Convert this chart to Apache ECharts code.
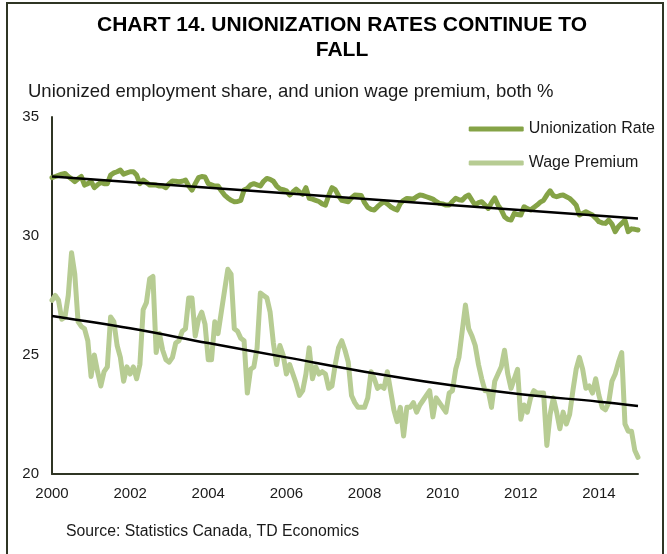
<!DOCTYPE html>
<html>
<head>
<meta charset="utf-8">
<script src="https://cdn.jsdelivr.net/npm/echarts@6/dist/echarts.min.js"></script>
<style>
html,body{margin:0;padding:0;background:#fff;}
#chart{width:667px;height:554px;}
</style>
</head>
<body>
<div id="chart"></div>
<script>
// Monthly categories Jan 2000 .. Jan 2015
const startYear = 2000;
const monthCount = 181;
const categories = [];
for (let i = 0; i < monthCount; i++) {
  const y = startYear + Math.floor(i / 12);
  const m = (i % 12) + 1;
  categories.push(y + '-' + (m < 10 ? '0' + m : m));
}
const tickLabels = ['2000','2002','2004','2006','2008','2010','2012','2014'];

const unionizationRate = [
32.45,32.5,32.55,32.6,32.63,32.5,32.4,32.28,32.4,32.5,32.14,32.2,
32.3,32.03,32.15,32.25,32.2,32.2,32.56,32.65,32.7,32.77,32.6,32.65,
32.7,32.7,32.56,32.2,32.35,32.25,32.14,32.15,32.14,32.1,32.1,32.03,
32.2,32.31,32.3,32.28,32.3,32.35,32.1,31.93,32.2,32.45,32.5,32.48,
32.2,32.15,32.1,32.1,31.9,31.72,31.6,31.5,31.44,31.45,31.5,31.93,
32.0,32.15,32.2,32.15,32.1,32.3,32.42,32.38,32.3,32.1,31.98,31.95,
31.9,31.72,31.85,31.97,31.85,31.75,32.03,31.58,31.55,31.5,31.45,31.35,
31.3,31.7,32.03,31.95,31.7,31.5,31.47,31.44,31.6,31.72,31.71,31.7,
31.4,31.2,31.12,31.09,31.23,31.35,31.44,31.35,31.23,31.15,31.09,31.37,
31.5,31.58,31.57,31.55,31.65,31.72,31.7,31.65,31.6,31.55,31.45,31.37,
31.35,31.3,31.3,31.45,31.58,31.52,31.5,31.65,31.72,31.5,31.3,31.4,
31.44,31.3,31.16,31.4,31.6,31.3,31.1,30.81,30.7,30.67,30.95,30.9,
30.88,31.23,31.15,31.09,31.2,31.3,31.42,31.5,31.72,31.9,31.7,31.65,
31.7,31.72,31.65,31.58,31.45,31.3,30.88,30.95,31.02,30.95,30.88,30.75,
30.6,30.55,30.53,30.67,30.5,30.18,30.4,30.53,30.67,30.18,30.3,30.28,
30.25
];

const wagePremium = [
27.3,27.5,27.3,26.5,26.6,27.5,29.3,28.4,26.4,26.2,26.1,25.6,
24.1,25.0,24.3,23.7,24.3,24.5,26.6,26.4,25.4,24.9,23.9,24.5,
24.2,24.5,24.0,24.6,26.9,27.2,28.2,28.3,25.1,25.9,25.2,24.8,
24.7,24.9,25.5,25.6,26.0,26.1,27.4,27.4,25.8,26.5,26.8,26.3,
24.8,24.8,26.4,25.9,26.8,27.7,28.6,28.4,26.1,26.0,25.7,25.6,
23.4,24.4,24.5,25.3,27.6,27.5,27.4,26.8,25.5,24.6,25.4,25.0,
24.2,24.6,24.2,23.8,23.3,23.5,24.2,25.3,24.0,24.5,24.2,24.3,
24.2,23.6,23.7,24.6,25.3,25.6,25.2,24.7,23.3,23.0,22.8,22.8,
22.8,23.2,24.3,24.0,23.6,23.7,23.6,24.3,23.5,22.7,22.2,22.8,
21.6,22.8,22.8,23.0,22.6,22.9,23.1,23.3,23.5,22.4,23.2,23.0,
22.8,22.6,23.4,23.5,24.4,24.9,26.0,27.1,26.1,25.8,25.4,24.6,
24.0,23.5,23.5,22.8,23.9,24.2,24.5,25.2,24.2,23.6,24.0,24.4,
22.3,22.9,22.6,23.2,23.5,23.4,23.4,23.4,21.2,22.5,23.2,22.6,
21.9,22.6,22.1,22.5,23.5,24.4,24.9,24.4,23.6,23.7,23.4,24.0,
23.3,22.8,22.7,23.0,23.9,24.2,24.7,25.1,22.1,21.8,21.8,21.0,
20.7
];

// Trend lines
const unionTrendCats = ['2000-01','2015-01'];
const unionTrend = [32.5, 30.74];
const wageTrendCats = ['2000-01','2002-01','2004-01','2006-01','2008-01','2010-01','2012-01','2014-01','2015-01'];
const wageTrend = [26.64, 26.12, 25.5, 24.9, 24.3, 23.78, 23.35, 23.04, 22.86];

const chart = echarts.init(document.getElementById('chart'), null, {renderer:'canvas'});
const FONT = 'Liberation Sans, Arial, sans-serif';

chart.setOption({
  animation: false,
  backgroundColor: '#fff',
  textStyle: { fontFamily: FONT },
  title: [
    {
      text: 'Unionized employment share, and union wage premium, both %',
      left: 23, top: 77,
      textStyle: { fontFamily: FONT, fontSize: 18.5, fontWeight: 'normal', color: '#1a1a1a' }
    },
    {
      text: 'Source: Statistics Canada, TD Economics',
      left: 61, top: 519,
      textStyle: { fontFamily: FONT, fontSize: 15.8, fontWeight: 'normal', color: '#1a1a1a' }
    }
  ],
  graphic: [
    { type: 'rect', shape: { x: 7, y: 3, width: 656, height: 600 }, style: { fill: 'none', stroke: '#2f3524', lineWidth: 2 }, silent: true, z: 100 },
    { type: 'text', x: 342, y: 13, silent: true,
      style: { text: 'CHART 14. UNIONIZATION RATES CONTINUE TO\nFALL', textAlign: 'center', textVerticalAlign: 'top',
        font: 'bold 21px Liberation Sans, Arial, sans-serif', fill: '#000', lineHeight: 25 } }
  ],
  legend: {
    data: ['Unionization Rate', 'Wage Premium'],
    orient: 'vertical',
    right: 7, top: 116,
    itemWidth: 55, itemHeight: 5,
    itemGap: 18,
    icon: 'roundRect',
    textStyle: { fontFamily: FONT, fontSize: 16, color: '#1a1a1a' }
  },
  grid: { left: 52, right: 29, top: 117, bottom: 80, containLabel: false },
  xAxis: {
    type: 'category',
    data: categories,
    boundaryGap: false,
    axisLine: { show: true, lineStyle: { color: '#2f3524', width: 2 } },
    axisTick: { show: false },
    splitLine: { show: false },
    axisLabel: {
      interval: function (idx) { return idx % 24 === 0; },
      formatter: function (v) { const y = v.slice(0, 4); return tickLabels.indexOf(y) >= 0 ? y : ''; },
      fontFamily: FONT, fontSize: 15, color: '#1a1a1a', margin: 12
    }
  },
  yAxis: {
    type: 'value',
    min: 20, max: 35, interval: 5,
    axisLine: { show: true, lineStyle: { color: '#2f3524', width: 2 } },
    axisTick: { show: false },
    splitLine: { show: false },
    axisLabel: { fontFamily: FONT, fontSize: 15, color: '#1a1a1a', margin: 13 }
  },
  series: [
    {
      name: 'Wage Premium', type: 'line', data: wagePremium, showSymbol: false, symbol: 'none',
      lineStyle: { color: '#B7CC93', width: 5, cap: 'round', join: 'round' }, itemStyle: { color: '#B7CC93' }, z: 2
    },
    {
      name: 'Unionization Rate', type: 'line', data: unionizationRate, showSymbol: false, symbol: 'none',
      lineStyle: { color: '#85A347', width: 5, cap: 'round', join: 'round' }, itemStyle: { color: '#85A347' }, z: 3
    },
    {
      name: 'unionTrend', type: 'line', data: unionTrendCats.map((c, i) => [c, unionTrend[i]]), showSymbol: false, symbol: 'none',
      lineStyle: { color: '#000', width: 2.5 }, z: 4
    },
    {
      name: 'wageTrend', type: 'line', smooth: 0.4, data: wageTrendCats.map((c, i) => [c, wageTrend[i]]), showSymbol: false, symbol: 'none',
      lineStyle: { color: '#000', width: 2.5 }, z: 4
    }
  ]
});
</script>
</body>
</html>
